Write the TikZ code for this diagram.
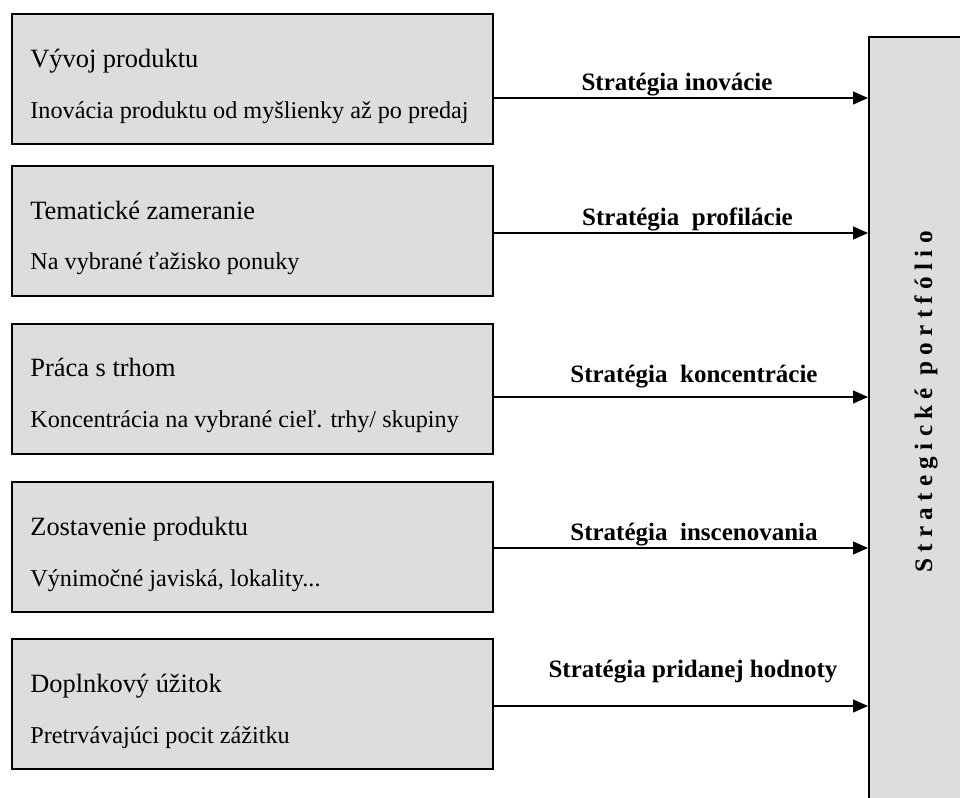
\documentclass[tikz,border=0pt]{standalone}
\usepackage{fontspec}
\setmainfont{Liberation Serif}
\usetikzlibrary{arrows.meta}
\definecolor{boxgray}{HTML}{DDDDDD}
\begin{document}
\begin{tikzpicture}[x=0.5pt,y=-0.5pt,
  srcbox/.style={draw=black, line width=1pt, fill=boxgray, anchor=north west,
    minimum width=240.5pt, minimum height=65pt, inner sep=0pt},
  titletext/.style={anchor=base west, inner sep=0pt, font=\fontsize{13.2}{15}\selectfont},
  subtext/.style={anchor=base west, inner sep=0pt, font=\fontsize{12.1}{14}\selectfont},
  lbl/.style={anchor=base, inner sep=0pt, font=\fontsize{12.5}{15}\selectfont\bfseries},
  conn/.style={draw=black, line width=0.7pt, -{Triangle[length=7.5pt,width=6.5pt]}},
  portbox/.style={draw=black, line width=1pt, fill=boxgray, anchor=north west,
    minimum width=60pt, minimum height=395pt, inner sep=0pt}]
\useasboundingbox (0,0) rectangle (960,798);
\clip (0,0) rectangle (960,798);

% right box
\node[portbox] (port) at (868,36) {};
\node[rotate=90, anchor=base, inner sep=0pt,
  font=\fontsize{12.6}{15}\selectfont\bfseries] (porttext) at (932,402)
  {\addfontfeatures{LetterSpace=25}Strategické portfólio};

% left boxes
\node[srcbox] (b1) at (10.5,13) {};
\node[srcbox] (b2) at (10.5,165) {};
\node[srcbox] (b3) at (10.5,323) {};
\node[srcbox] (b4) at (10.5,481) {};
\node[srcbox] (b5) at (10.5,638) {};

\node[titletext] (t1) at (30,67) {Vývoj produktu};
\node[subtext]   (s1) at (30,118) {Inovácia produktu od myšlienky až po predaj};
\node[titletext] (t2) at (30,219) {Tematické zameranie};
\node[subtext]   (s2) at (30,269) {Na vybrané ťažisko ponuky};
\node[titletext] (t3) at (30,376) {Práca s trhom};
\node[subtext]   (s3) at (30,427) {Koncentrácia na vybrané cieľ. trhy/ skupiny};
\node[titletext] (t4) at (30,535) {Zostavenie produktu};
\node[subtext]   (s4) at (30,586) {Výnimočné javiská, lokality...};
\node[titletext] (t5) at (30,692) {Doplnkový úžitok};
\node[subtext]   (s5) at (30,743) {Pretrvávajúci pocit zážitku};

% arrow levels
\coordinate (y1) at (0,98);
\coordinate (y2) at (0,233);
\coordinate (y3) at (0,397);
\coordinate (y4) at (0,548);
\coordinate (y5) at (0,706);

\draw[conn] (b1.east |- y1) -- (port.west |- y1);
\draw[conn] (b2.east |- y2) -- (port.west |- y2);
\draw[conn] (b3.east |- y3) -- (port.west |- y3);
\draw[conn] (b4.east |- y4) -- (port.west |- y4);
\draw[conn] (b5.east |- y5) -- (port.west |- y5);

\node[lbl] (l1) at (677,90) {Stratégia inovácie};
\node[lbl] (l2) at (687.5,225) {Stratégia\ \ profilácie};
\node[lbl] (l3) at (694,382) {Stratégia\ \ koncentrácie};
\node[lbl] (l4) at (694,540) {Stratégia\ \ inscenovania};
\node[lbl] (l5) at (693,677) {Stratégia pridanej hodnoty};
\end{tikzpicture}
\end{document}
